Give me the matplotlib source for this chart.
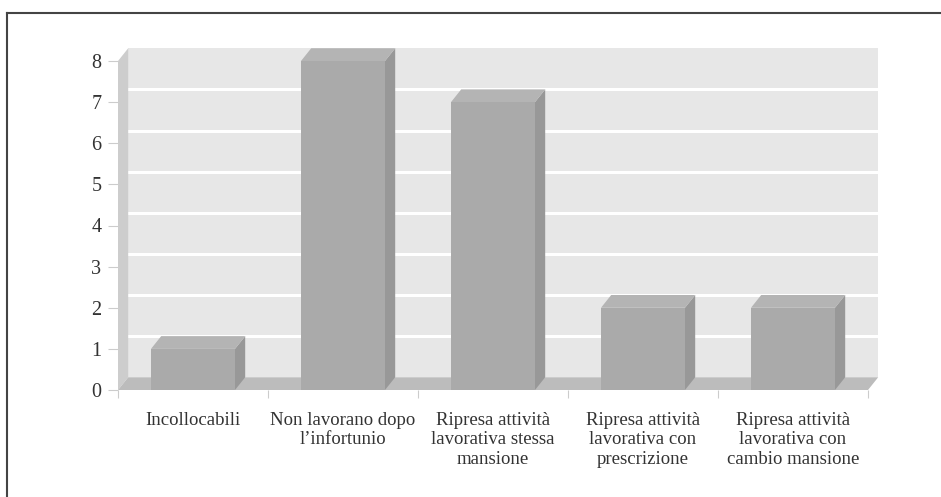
import numpy as np
import matplotlib
matplotlib.use('Agg')
import matplotlib.pyplot as plt
from matplotlib.patches import Polygon
from matplotlib.lines import Line2D

plt.rcParams['font.family'] = ['Liberation Serif', 'DejaVu Serif']

categories = ['Incollocabili',
              'Non lavorano dopo\nl\u2019infortunio',
              'Ripresa attivit\u00e0\nlavorativa stessa\nmansione',
              'Ripresa attivit\u00e0\nlavorativa con\nprescrizione',
              'Ripresa attivit\u00e0\nlavorativa con\ncambio mansione']
values = [1, 8, 7, 2, 2]
yticks = [0, 1, 2, 3, 4, 5, 6, 7, 8]

# fake 3d depth (data units)
dx = 0.068
dy = 0.31
half = 0.28
ymax = 8
n = len(values)

fig = plt.figure(figsize=(9.41, 4.97), dpi=100)
ax = fig.add_axes([118/941, 107/497, 750/941, 329/497])
ax.set_xlim(-0.5, n - 0.5)
ax.set_ylim(0, ymax)

x0, x1 = -0.5, n - 0.5

# back wall
ax.add_patch(Polygon([(x0+dx, dy), (x1+dx, dy), (x1+dx, ymax+dy), (x0+dx, ymax+dy)],
                     closed=True, fc='#e7e7e7', ec='none', clip_on=False, zorder=1))
# grid on back wall
for v in yticks[1:-1]:
    ax.plot([x0+dx, x1+dx], [v+dy, v+dy], color='white', lw=2.2, clip_on=False, zorder=2)
# left wall
ax.add_patch(Polygon([(x0, 0), (x0+dx, dy), (x0+dx, ymax+dy), (x0, ymax)],
                     closed=True, fc='#cdcdcd', ec='none', clip_on=False, zorder=3))
# floor
ax.add_patch(Polygon([(x0, 0), (x1, 0), (x1+dx, dy), (x0+dx, dy)],
                     closed=True, fc='#bcbcbc', ec='none', clip_on=False, zorder=3))

# bars
for i, v in enumerate(values):
    l, r = i - half, i + half
    ax.add_patch(Polygon([(r, 0), (r+dx, dy), (r+dx, v+dy), (r, v)],
                         closed=True, fc='#989898', ec='none', clip_on=False, zorder=4))
    ax.add_patch(Polygon([(l, v), (r, v), (r+dx, v+dy), (l+dx, v+dy)],
                         closed=True, fc='#b4b4b4', ec='none', clip_on=False, zorder=4))
    ax.add_patch(Polygon([(l, 0), (r, 0), (r, v), (l, v)],
                         closed=True, fc='#aaaaaa', ec='none', clip_on=False, zorder=5))

for s in ax.spines.values():
    s.set_visible(False)
ax.patch.set_visible(False)

ax.set_yticks(yticks)
ax.set_yticklabels([str(t) for t in yticks], fontsize=14.5, color='#333333')
ax.tick_params(axis='y', length=7, width=0.8, color='#cccccc', pad=5)

ax.set_xticks(np.arange(-0.5, n, 1.0))
ax.set_xticklabels([])
ax.set_xticks(np.arange(n), minor=True)
ax.set_xticklabels(categories, minor=True, fontsize=13.5, color='#333333', linespacing=1.17)
ax.tick_params(axis='x', which='major', length=6, width=0.8, color='#cccccc', direction='out')
ax.tick_params(axis='x', which='minor', length=0, pad=16)

# frame lines of the original picture
fig.add_artist(Line2D([7/941, 1], [1 - 12.5/497, 1 - 12.5/497], color='#444444', lw=1.5))
fig.add_artist(Line2D([7/941, 7/941], [0, 1 - 12.5/497], color='#444444', lw=1.5))

fig.savefig('out.png', dpi=100)
